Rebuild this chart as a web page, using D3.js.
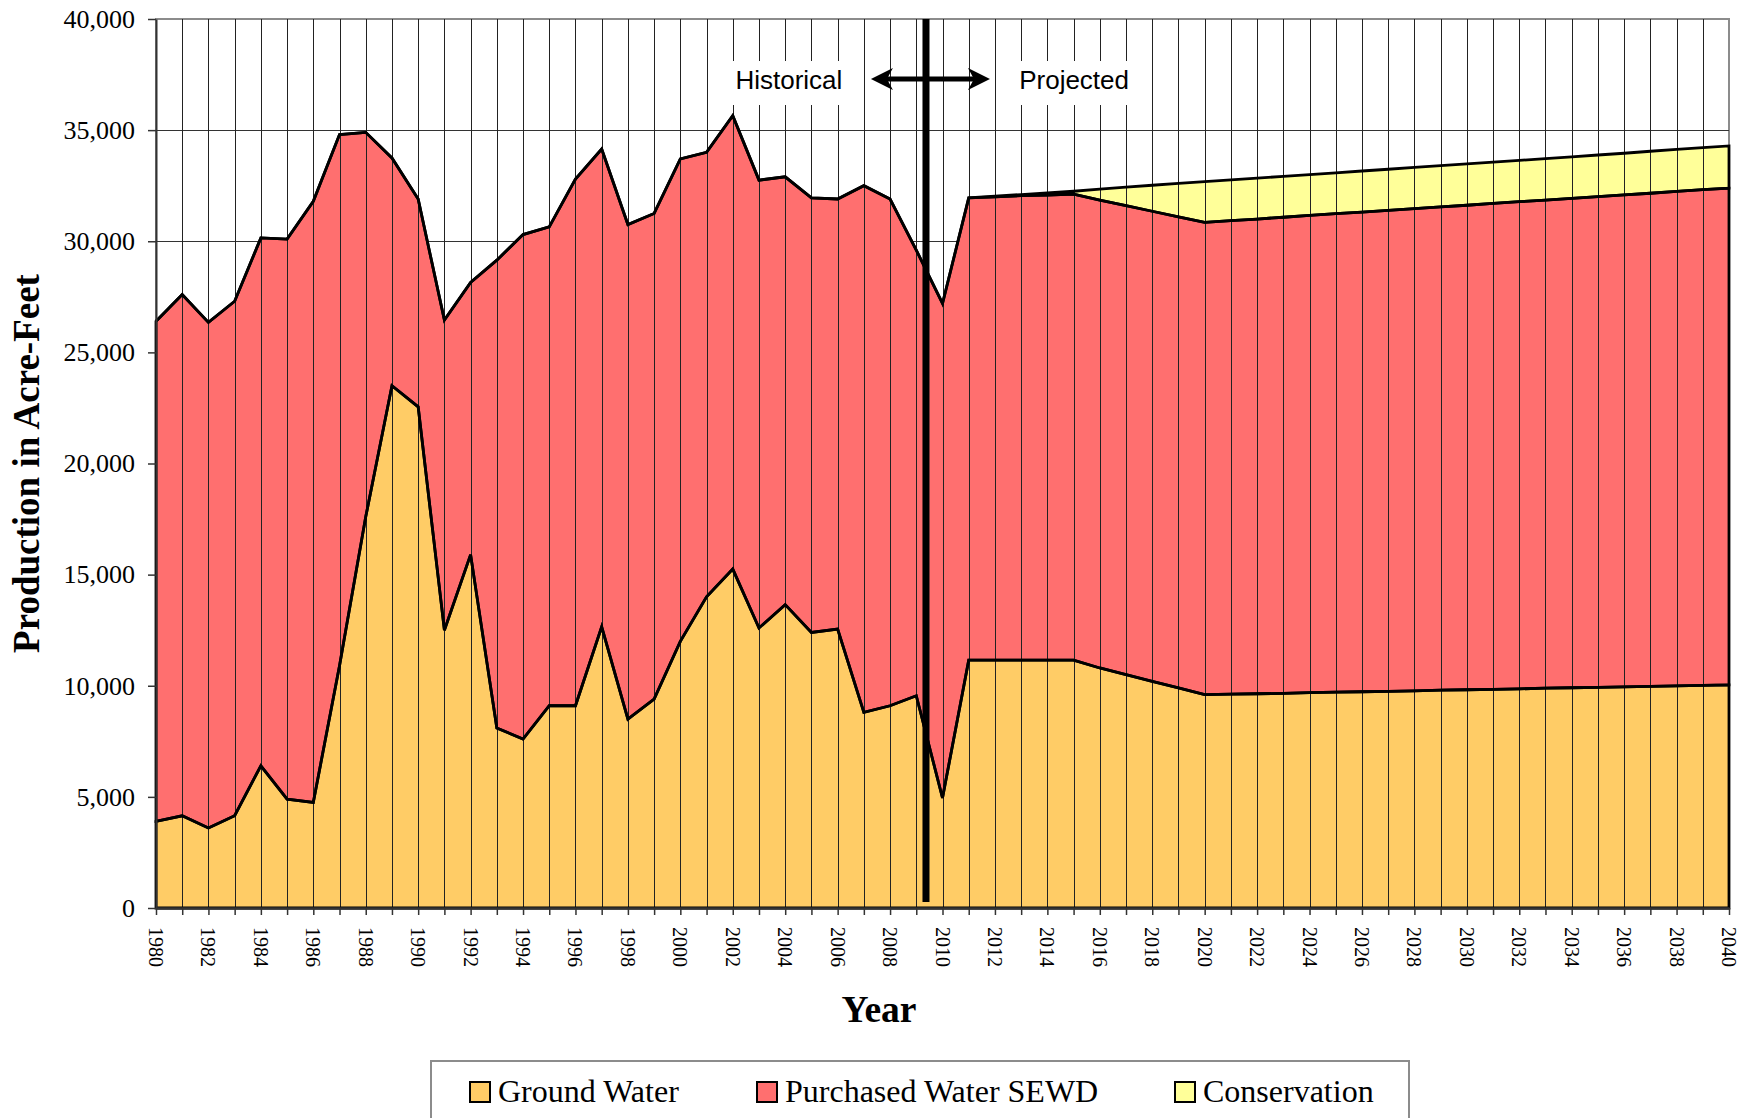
<!DOCTYPE html>
<html>
<head>
<meta charset="utf-8">
<script src="https://cdn.jsdelivr.net/npm/d3@7/dist/d3.min.js"></script>
<style>
  body { margin: 0; background: #fff; }
  svg { display: block; }
</style>
</head>
<body>
<svg id="chart" width="1747" height="1118"></svg>
<script>
// years 1980..2040
var years = [1980,1981,1982,1983,1984,1985,1986,1987,1988,1989,
             1990,1991,1992,1993,1994,1995,1996,1997,1998,1999,
             2000,2001,2002,2003,2004,2005,2006,2007,2008,2009,
             2010,2011,2012,2013,2014,2015,2016,2017,2018,2019,
             2020,2021,2022,2023,2024,2025,2026,2027,2028,2029,
             2030,2031,2032,2033,2034,2035,2036,2037,2038,2039,2040];

var groundWater = [3900,4150,3600,4150,6400,4900,4750,10900,17600,23500,
                   22550,12500,15900,8100,7600,9100,9100,12650,8500,9400,
                   12000,14000,15250,12600,13650,12400,12550,8800,9100,9550,
                   4950,11150,11150,11150,11150,11150,10800,10500,10200,9900,
                   9600,9620,9640,9660,9690,9710,9730,9750,9770,9800,
                   9820,9840,9860,9890,9910,9930,9950,9970,9990,10020,10040];

var purchasedWater = [22500,23450,22750,23150,23750,25200,27050,23900,17300,10250,
                      9350,13950,12250,21050,22700,21550,23700,21500,22250,21850,
                      21700,20000,20400,20150,19250,19550,19350,23700,22800,20050,
                      22250,20800,20850,20900,20930,20970,21050,21100,21150,21200,
                      21250,21310,21360,21420,21470,21530,21580,21640,21700,21750,
                      21800,21860,21920,21960,22020,22080,22140,22190,22250,22300,22350];

var conservation = [0,0,0,0,0,0,0,0,0,0,
                    0,0,0,0,0,0,0,0,0,0,
                    0,0,0,0,0,0,0,0,0,0,
                    0,0,30,50,90,130,500,840,1170,1500,
                    1830,1830,1840,1840,1840,1840,1850,1850,1850,1850,
                    1860,1860,1860,1870,1870,1870,1870,1890,1890,1890,1900];

var seriesKeys   = ['ground', 'purchased', 'conservation'];
var seriesNames  = ['Ground Water', 'Purchased Water SEWD', 'Conservation'];
var seriesColors = ['#FFCC66', '#FF6F6F', '#FFFF99'];

var yTicks = [0,5000,10000,15000,20000,25000,30000,35000,40000];
var xLabelYears = [1980,1982,1984,1986,1988,1990,1992,1994,1996,1998,
                   2000,2002,2004,2006,2008,2010,2012,2014,2016,2018,
                   2020,2022,2024,2026,2028,2030,2032,2034,2036,2038,2040];

// annotations (data units)
var dividerYear = 2009.37;
var arrowFrom = 2007.27, arrowTo = 2011.81, arrowValue = 37300;
var notes = [
  { text: 'Historical', year: 2004.14, value: 36850 },
  { text: 'Projected',  year: 2015.02, value: 36850 }
];

var svg = d3.select('#chart');

var x = d3.scaleLinear().domain([1980, 2040]).range([156, 1729]);
var y = d3.scaleLinear().domain([0, 40000]).range([908, 19]);

var rows = years.map(function (yr, i) {
  return { year: yr, ground: groundWater[i], purchased: purchasedWater[i], conservation: conservation[i] };
});
var stacked = d3.stack().keys(seriesKeys)(rows);

// plot area
svg.append('rect')
  .attr('x', x(1980)).attr('y', y(40000))
  .attr('width', x(2040) - x(1980)).attr('height', y(0) - y(40000))
  .attr('fill', '#fff').attr('stroke', '#8c8c8c').attr('stroke-width', 2);

// horizontal gridlines (behind the areas)
svg.append('g').selectAll('line')
  .data(yTicks.filter(function (t) { return t > 0 && t < 40000; }))
  .enter().append('line')
  .attr('x1', x(1980)).attr('x2', x(2040))
  .attr('y1', function (d) { return Math.round(y(d)) + 0.5; })
  .attr('y2', function (d) { return Math.round(y(d)) + 0.5; })
  .attr('stroke', '#333').attr('stroke-width', 1);

var area = d3.area()
  .x(function (d) { return x(d.data.year); })
  .y0(function (d) { return y(d[0]); })
  .y1(function (d) { return y(d[1]); });

svg.append('g').selectAll('path')
  .data(stacked)
  .enter().append('path')
  .attr('d', area)
  .attr('fill', function (d, i) { return seriesColors[i]; });

// vertical gridlines, drawn over the fills
svg.append('g').selectAll('line')
  .data(years.slice(1, -1))
  .enter().append('line')
  .attr('x1', function (d) { return Math.round(x(d)) + 0.5; })
  .attr('x2', function (d) { return Math.round(x(d)) + 0.5; })
  .attr('y1', y(40000)).attr('y2', y(0))
  .attr('stroke', '#222').attr('stroke-width', 1);

// series outlines
svg.append('g').selectAll('path')
  .data(stacked)
  .enter().append('path')
  .attr('d', area)
  .attr('fill', 'none')
  .attr('stroke', '#000').attr('stroke-width', 2.8)
  .attr('stroke-linejoin', 'miter');

// y axis
var yAxis = svg.append('g')
  .attr('transform', 'translate(' + x(1980) + ',0)')
  .call(d3.axisLeft(y).tickValues(yTicks).tickFormat(d3.format(','))
    .tickSize(8).tickSizeOuter(0).tickPadding(13));
yAxis.selectAll('text')
  .attr('font-family', '"Liberation Serif", "Times New Roman", serif')
  .attr('font-size', 26).attr('fill', '#000');
yAxis.selectAll('line').attr('stroke', '#333').attr('stroke-width', 1.5);
yAxis.select('.domain').attr('stroke', '#333').attr('stroke-width', 2);

// x axis
var xAxis = svg.append('g')
  .attr('transform', 'translate(0,' + y(0) + ')')
  .call(d3.axisBottom(x).tickValues(years).tickFormat('')
    .tickSize(7).tickSizeOuter(0));
xAxis.selectAll('line').attr('stroke', '#333').attr('stroke-width', 1.5);
xAxis.select('.domain').attr('stroke', '#333').attr('stroke-width', 2.5);

svg.append('g').selectAll('text')
  .data(xLabelYears)
  .enter().append('text')
  .attr('transform', function (d) { return 'translate(' + x(d) + ',' + (y(0) + 19) + ') rotate(90)'; })
  .attr('dy', '0.35em')
  .attr('text-anchor', 'start')
  .attr('font-family', '"Liberation Serif", "Times New Roman", serif')
  .attr('font-size', 20)
  .text(function (d) { return d; });

// axis titles
svg.append('text')
  .attr('transform', 'translate(38.5,' + ((y(0) + y(40000)) / 2) + ') rotate(-90)')
  .attr('text-anchor', 'middle')
  .attr('font-family', '"Liberation Serif", "Times New Roman", serif')
  .attr('font-weight', 'bold').attr('font-size', 37)
  .text('Production in Acre-Feet');

svg.append('text')
  .attr('x', 879).attr('y', 1022)
  .attr('text-anchor', 'middle')
  .attr('font-family', '"Liberation Serif", "Times New Roman", serif')
  .attr('font-weight', 'bold').attr('font-size', 37.5)
  .text('Year');

// historical / projected labels on white boxes
notes.forEach(function (n) {
  var g = svg.append('g');
  var t = g.append('text')
    .attr('x', x(n.year)).attr('y', y(n.value))
    .attr('text-anchor', 'middle')
    .attr('font-family', '"Liberation Sans", Arial, sans-serif')
    .attr('font-size', 26)
    .text(n.text);
  var b = t.node().getBBox();
  g.insert('rect', 'text')
    .attr('x', b.x - 9).attr('y', b.y - 4)
    .attr('width', b.width + 18).attr('height', b.height + 14)
    .attr('fill', '#fff');
});

// double arrow
var ay = y(arrowValue), ax0 = x(arrowFrom), ax1 = x(arrowTo);
svg.append('line')
  .attr('x1', ax0 + 12).attr('x2', ax1 - 12)
  .attr('y1', ay).attr('y2', ay)
  .attr('stroke', '#000').attr('stroke-width', 5);
[[ax0, 1], [ax1, -1]].forEach(function (h) {
  var tx = h[0], s = h[1];
  svg.append('path')
    .attr('d', 'M' + tx + ',' + ay +
               'L' + (tx + s * 22) + ',' + (ay - 11) +
               'L' + (tx + s * 16) + ',' + ay +
               'L' + (tx + s * 22) + ',' + (ay + 11) + 'Z')
    .attr('fill', '#000');
});

// historical / projected divider
svg.append('rect')
  .attr('x', x(dividerYear) - 3.5).attr('y', y(40000))
  .attr('width', 7).attr('height', y(0) - 6 - y(40000))
  .attr('fill', '#000');

// legend
var legend = svg.append('g');
legend.append('rect')
  .attr('x', 431).attr('y', 1061).attr('width', 978).attr('height', 80)
  .attr('fill', '#fff').attr('stroke', '#8c8c8c').attr('stroke-width', 2);
var legendX = [470, 757, 1175];
seriesNames.forEach(function (name, i) {
  legend.append('rect')
    .attr('x', legendX[i]).attr('y', 1082).attr('width', 20).attr('height', 20)
    .attr('fill', seriesColors[i]).attr('stroke', '#000').attr('stroke-width', 2);
  legend.append('text')
    .attr('x', legendX[i] + 28).attr('y', 1102)
    .attr('font-family', '"Liberation Serif", "Times New Roman", serif')
    .attr('font-size', 32)
    .text(name);
});
</script>
</body>
</html>
